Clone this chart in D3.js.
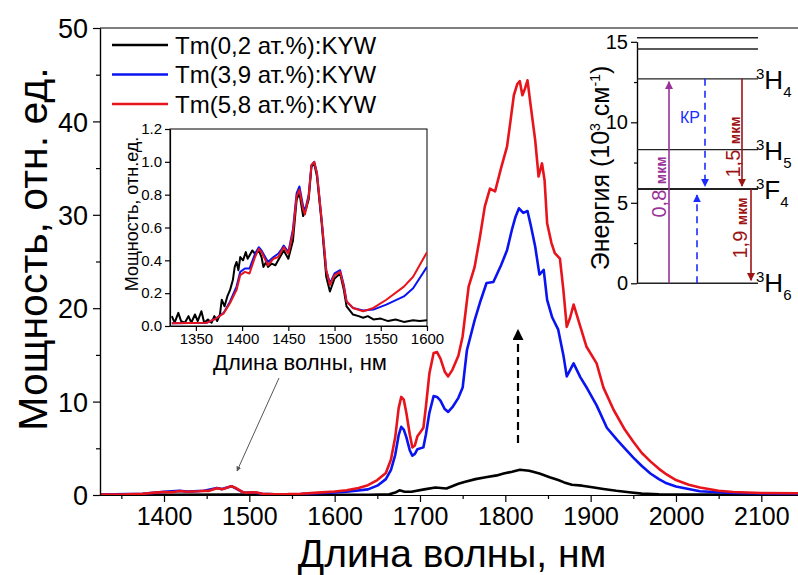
<!DOCTYPE html>
<html>
<head>
<meta charset="utf-8">
<script src="https://cdn.jsdelivr.net/npm/d3@7"></script>
<style>
  body { margin: 0; background: #fff; }
  svg { font-family: "Liberation Sans", Arial, sans-serif; }
  .axis path, .axis line { stroke: #000; stroke-width: 1.2; }
  .axis text { fill: #000; }
</style>
</head>
<body>
<div class="chart"></div>
<script>
// Main spectra [wavelength nm, power a.u.]
var redMain = [[1325,0.05],[1350,0.05],[1375,0.13],[1390,0.25],[1400,0.32],[1410,0.3],[1418,0.42],[1428,0.35],[1440,0.4],[1447,0.45],[1452,0.42],[1462,0.72],[1468,0.62],[1472,0.72],[1479,0.95],[1484,0.75],[1492,0.32],[1496,0.24],[1503,0.3],[1509,0.26],[1515,0.13],[1530,0.08],[1545,0.09],[1560,0.14],[1580,0.25],[1600,0.38],[1614,0.5],[1628,0.75],[1639,1.05],[1650,1.6],[1660,2.35],[1666,3.8],[1671,6.2],[1675,9.3],[1678,10.5],[1681,10.2],[1684,8.8],[1688,6.5],[1691,5.1],[1694,5.3],[1697,6.3],[1701,6.8],[1704,7.2],[1707,9.5],[1711,13.0],[1716,15.2],[1720,15.3],[1724,14.6],[1729,13.2],[1733,12.7],[1738,13.4],[1745,14.9],[1750,17.0],[1757,22.3],[1764,24.4],[1770,27.5],[1776,30.9],[1782,32.8],[1788,32.5],[1795,35.0],[1802,37.3],[1806,40.0],[1810,42.8],[1814,44.0],[1817,44.3],[1820,42.8],[1823,43.5],[1826,44.4],[1830,41.5],[1835,38.0],[1839,34.1],[1843,35.5],[1846,33.7],[1849,29.1],[1854,27.0],[1858,25.9],[1864,25.3],[1868,22.0],[1872,18.0],[1876,19.0],[1880,20.4],[1888,18.0],[1895,15.9],[1907,14.1],[1915,11.5],[1927,9.1],[1940,7.0],[1950,5.7],[1960,4.5],[1970,3.6],[1980,2.8],[1989,2.2],[2000,1.6],[2015,1.1],[2028,0.8],[2050,0.45],[2067,0.32],[2100,0.22],[2143,0.18]];

var blueMain = [[1325,0.04],[1375,0.12],[1400,0.33],[1418,0.44],[1428,0.36],[1447,0.46],[1462,0.76],[1468,0.63],[1479,0.94],[1492,0.32],[1496,0.24],[1503,0.3],[1515,0.12],[1530,0.08],[1560,0.11],[1580,0.18],[1600,0.28],[1614,0.35],[1639,0.6],[1650,1.0],[1660,1.7],[1666,2.7],[1671,4.3],[1675,6.4],[1678,7.3],[1681,7.0],[1684,6.2],[1688,4.8],[1691,4.2],[1694,4.4],[1697,4.9],[1704,5.1],[1707,6.5],[1711,8.8],[1716,10.6],[1720,10.5],[1724,10.1],[1729,9.2],[1733,8.9],[1738,9.4],[1745,10.4],[1750,11.5],[1755,15.5],[1764,18.7],[1771,20.8],[1778,22.7],[1786,22.8],[1795,24.6],[1802,26.2],[1808,28.5],[1812,29.8],[1816,30.7],[1821,30.2],[1826,30.4],[1830,28.8],[1835,26.6],[1840,23.6],[1845,24.1],[1849,20.9],[1855,19.0],[1862,17.7],[1868,15.0],[1872,12.7],[1876,13.4],[1880,14.1],[1888,12.6],[1896,11.4],[1907,9.6],[1919,7.2],[1931,5.9],[1940,5.0],[1950,4.0],[1960,3.1],[1970,2.3],[1980,1.7],[1989,1.25],[2000,0.9],[2028,0.4],[2067,0.22],[2100,0.17],[2143,0.15]];

var blackMain = [[1325,0.02],[1400,0.03],[1480,0.05],[1550,0.02],[1640,0.02],[1664,0.07],[1672,0.3],[1676,0.5],[1682,0.35],[1690,0.35],[1705,0.6],[1718,0.8],[1731,0.7],[1745,1.2],[1752,1.4],[1765,1.7],[1777,1.9],[1790,2.1],[1798,2.3],[1808,2.5],[1817,2.7],[1828,2.6],[1840,2.3],[1852,1.9],[1862,1.6],[1869,1.35],[1878,1.1],[1890,1.0],[1900,0.85],[1915,0.65],[1930,0.45],[1945,0.3],[1960,0.15],[1980,0.08],[2050,0.05],[2143,0.03]];

// Inset, normalised spectra
var redInset = [[1324,0.016],[1362,0.02],[1372,0.047],[1380,0.077],[1387,0.14],[1394,0.22],[1398,0.31],[1403,0.33],[1408,0.32],[1414,0.42],[1418,0.47],[1421,0.45],[1428,0.37],[1434,0.41],[1439,0.42],[1443,0.46],[1445,0.48],[1450,0.44],[1455,0.57],[1459,0.79],[1462,0.83],[1466,0.71],[1468,0.68],[1472,0.79],[1475,0.98],[1478,1.0],[1481,0.93],[1486,0.65],[1491,0.34],[1495,0.25],[1500,0.31],[1506,0.33],[1510,0.24],[1513,0.15],[1520,0.11],[1531,0.09],[1542,0.11],[1556,0.16],[1575,0.24],[1585,0.3],[1600,0.45]];

var blueInset = [[1324,0.016],[1362,0.02],[1372,0.047],[1380,0.08],[1387,0.15],[1394,0.24],[1398,0.33],[1403,0.35],[1408,0.35],[1414,0.44],[1418,0.48],[1421,0.46],[1428,0.39],[1434,0.42],[1439,0.44],[1443,0.47],[1445,0.49],[1450,0.45],[1455,0.59],[1459,0.81],[1462,0.85],[1466,0.73],[1468,0.7],[1472,0.8],[1475,0.98],[1478,1.0],[1481,0.93],[1486,0.65],[1491,0.34],[1495,0.26],[1500,0.32],[1506,0.34],[1510,0.25],[1513,0.15],[1520,0.11],[1531,0.095],[1542,0.1],[1556,0.13],[1575,0.18],[1585,0.23],[1600,0.36]];

var blackInset = [[1324,0.06],[1327,0.02],[1331,0.08],[1334,0.03],[1338,0.02],[1342,0.06],[1345,0.02],[1349,0.07],[1352,0.03],[1356,0.09],[1359,0.02],[1363,0.04],[1367,0.02],[1370,0.06],[1373,0.03],[1376,0.07],[1378,0.16],[1381,0.12],[1384,0.18],[1387,0.22],[1390,0.28],[1392,0.36],[1394,0.39],[1396,0.34],[1398,0.42],[1401,0.4],[1404,0.45],[1406,0.41],[1408,0.43],[1411,0.46],[1414,0.44],[1418,0.46],[1421,0.42],[1423,0.36],[1426,0.39],[1428,0.36],[1432,0.38],[1436,0.37],[1441,0.42],[1445,0.46],[1450,0.41],[1455,0.52],[1459,0.77],[1462,0.81],[1466,0.67],[1469,0.71],[1472,0.77],[1475,0.97],[1478,0.99],[1481,0.91],[1486,0.63],[1491,0.3],[1495,0.21],[1500,0.29],[1506,0.32],[1510,0.22],[1513,0.12],[1520,0.07],[1526,0.06],[1531,0.05],[1536,0.06],[1542,0.04],[1550,0.045],[1558,0.03],[1566,0.04],[1575,0.025],[1585,0.035],[1592,0.03],[1600,0.035]];

// Energy levels, 10^3 cm^-1
var levelValues = [15.25, 14.55, 12.7, 8.3, 5.85, 0];
var levelNames = ["", "", "4", "5", "4", "6"];
var levelLetters = ["", "", "H", "H", "F", "H"];

var legendLabels = ["Tm(0,2 ат.%):KYW", "Tm(3,9 ат.%):KYW", "Tm(5,8 ат.%):KYW"];
var seriesColors = ["#000000", "#0a14f0", "#e8141c"];

var svgWidth = 798;
var svgHeight = 575;

var svg = d3.select(".chart")
  .append("svg")
  .attr("width", svgWidth)
  .attr("height", svgHeight);

// ----- main chart -----
var xScale = d3.scaleLinear().domain([1325, 2143]).range([100, 798]);
var yScale = d3.scaleLinear().domain([0, 50]).range([495, 28]);

svg.append("clipPath").attr("id", "mainClip")
  .append("rect").attr("x", 100).attr("y", 28).attr("width", 698).attr("height", 467);

var line = d3.line()
  .x(function(d) { return xScale(d[0]); })
  .y(function(d) { return yScale(d[1]); });

var curves = svg.append("g").attr("clip-path", "url(#mainClip)");
[blackMain, blueMain, redMain].forEach(function(s, i) {
  curves.append("path")
    .attr("d", line(s))
    .attr("fill", "none")
    .attr("stroke", seriesColors[i])
    .attr("stroke-width", 2.6)
    .attr("stroke-linejoin", "round");
});

// axes
var bottomAxis = d3.axisBottom(xScale).tickValues(d3.range(1400, 2101, 100))
  .tickSize(7).tickSizeOuter(0).tickPadding(5).tickFormat(d3.format("d"));
var bottomMinor = d3.axisBottom(xScale).tickValues(d3.range(1350, 2143, 100))
  .tickSize(4).tickSizeOuter(0).tickFormat("");
var leftAxis = d3.axisLeft(yScale).tickValues(d3.range(0, 51, 10))
  .tickSize(7).tickSizeOuter(0).tickPadding(5);
var leftMinor = d3.axisLeft(yScale).tickValues(d3.range(5, 50, 10))
  .tickSize(4).tickSizeOuter(0).tickFormat("");

svg.append("g").attr("class", "axis").attr("transform", "translate(0,495)")
  .call(bottomMinor);
svg.append("g").attr("class", "axis").attr("transform", "translate(0,495)")
  .call(bottomAxis).selectAll("text").style("font-size", "25px");
svg.append("g").attr("class", "axis").attr("transform", "translate(100,0)")
  .call(leftMinor);
svg.append("g").attr("class", "axis").attr("transform", "translate(100,0)")
  .call(leftAxis).selectAll("text").style("font-size", "27px").attr("dy", "0.36em");

// top frame line
svg.append("line").attr("x1", 100).attr("x2", 798).attr("y1", 28).attr("y2", 28)
  .attr("stroke", "#000").attr("stroke-width", 1.2);

// axis titles
svg.append("text")
  .attr("x", 452).attr("y", 567)
  .attr("text-anchor", "middle")
  .style("font-size", "39px")
  .text("Длина волны, нм");
svg.append("text")
  .attr("transform", "translate(47,249) rotate(-90)")
  .attr("text-anchor", "middle")
  .style("font-size", "41px")
  .text("Мощность, отн. ед.");

// legend
legendLabels.forEach(function(lbl, i) {
  var ly = 45 + i * 29.5;
  svg.append("line").attr("x1", 112).attr("x2", 168).attr("y1", ly).attr("y2", ly)
    .attr("stroke", seriesColors[i]).attr("stroke-width", 2.6);
  svg.append("text").attr("x", 175).attr("y", ly + 8.5)
    .style("font-size", "24px").text(lbl);
});

// arrow heads
svg.append("defs").selectAll("marker")
  .data([["headBlack", "#000"], ["headGray", "#555"], ["headPurple", "#993399"], ["headBlue", "#1a2cff"], ["headRed", "#9c1414"]])
  .enter().append("marker")
  .attr("id", function(d) { return d[0]; })
  .attr("viewBox", "0 0 10 10").attr("refX", 9).attr("refY", 5)
  .attr("markerWidth", 5).attr("markerHeight", 5)
  .attr("orient", "auto")
  .append("path").attr("d", "M0,0 L10,5 L0,10 Z").attr("fill", function(d) { return d[1]; });

// black dashed arrow under the peak
svg.append("line")
  .attr("x1", 518).attr("x2", 518).attr("y1", 443).attr("y2", 330)
  .attr("stroke", "#000").attr("stroke-width", 2.2)
  .attr("stroke-dasharray", "8,5")
  .attr("marker-end", "url(#headBlack)");

// thin arrow from inset to the 1480 nm band
svg.append("line")
  .attr("x1", 279).attr("x2", 237).attr("y1", 378).attr("y2", 471)
  .attr("stroke", "#555").attr("stroke-width", 1)
  .attr("marker-end", "url(#headGray)");

// ----- inset -----
var xInset = d3.scaleLinear().domain([1322, 1600]).range([170, 427]);
var yInset = d3.scaleLinear().domain([0, 1.2]).range([326, 129]);

svg.append("rect").attr("x", 170).attr("y", 129).attr("width", 257).attr("height", 197)
  .attr("fill", "#fff").attr("stroke", "#000").attr("stroke-width", 1);

svg.append("clipPath").attr("id", "insetClip")
  .append("rect").attr("x", 170).attr("y", 129).attr("width", 257).attr("height", 197);

var insetLine = d3.line()
  .x(function(d) { return xInset(d[0]); })
  .y(function(d) { return yInset(d[1]); });

var insetCurves = svg.append("g").attr("clip-path", "url(#insetClip)");
[blackInset, blueInset, redInset].forEach(function(s, i) {
  insetCurves.append("path")
    .attr("d", insetLine(s))
    .attr("fill", "none")
    .attr("stroke", seriesColors[i])
    .attr("stroke-width", 2)
    .attr("stroke-linejoin", "round");
});

var insetBottom = d3.axisBottom(xInset).tickValues(d3.range(1350, 1601, 50))
  .tickSize(5).tickSizeOuter(0).tickPadding(2).tickFormat(d3.format("d"));
var insetLeft = d3.axisLeft(yInset).tickValues(d3.range(0, 1.21, 0.2))
  .tickSize(5).tickSizeOuter(0).tickPadding(3).tickFormat(d3.format(".1f"));
svg.append("g").attr("class", "axis").attr("transform", "translate(0,326)")
  .call(insetBottom).selectAll("text").style("font-size", "15px");
svg.append("g").attr("class", "axis").attr("transform", "translate(170,0)")
  .call(insetLeft).selectAll("text").style("font-size", "15px");

svg.append("text")
  .attr("x", 300).attr("y", 370)
  .attr("text-anchor", "middle")
  .style("font-size", "22px")
  .text("Длина волны, нм");
svg.append("text")
  .attr("transform", "translate(138,214) rotate(-90)")
  .attr("text-anchor", "middle")
  .style("font-size", "18px")
  .text("Мощность, отн.ед.");

// ----- energy level diagram -----
var yEnergy = d3.scaleLinear().domain([0, 15]).range([283.3, 41.8]);
var axisX = 637;

var energyAxis = d3.axisLeft(yEnergy).tickValues([0, 5, 10, 15])
  .tickSize(6).tickSizeOuter(0).tickPadding(3);
var energyMinor = d3.axisLeft(yEnergy).tickValues([2.5, 7.5, 12.5])
  .tickSize(3).tickSizeOuter(0).tickFormat("");
svg.append("g").attr("class", "axis").attr("transform", "translate(" + axisX + ",0)")
  .call(energyMinor);
svg.append("g").attr("class", "axis").attr("transform", "translate(" + axisX + ",0)")
  .call(energyAxis).selectAll("text").style("font-size", "20px");

svg.selectAll(".level")
  .data(levelValues)
  .enter().append("line")
  .attr("class", "level")
  .attr("x1", axisX).attr("x2", 758)
  .attr("y1", function(d) { return yEnergy(d); })
  .attr("y2", function(d) { return yEnergy(d); })
  .attr("stroke", "#222")
  .attr("stroke-width", function(d, i) { return i === 4 ? 2 : 1.4; });

// level names like 3H4
levelValues.forEach(function(v, i) {
  if (!levelLetters[i]) return;
  var t = svg.append("text")
    .attr("x", 756).attr("y", yEnergy(v) + (i === 5 ? 9 : 10))
    .style("font-size", "26px");
  t.append("tspan").attr("dy", "-10").style("font-size", "15px").text("3");
  t.append("tspan").attr("dy", "10").text(levelLetters[i]);
  t.append("tspan").attr("dy", "8").style("font-size", "15px").text(levelNames[i]);
});

var energyTitle = svg.append("text")
  .attr("transform", "translate(609,168) rotate(-90)")
  .attr("text-anchor", "middle")
  .style("font-size", "25px");
energyTitle.append("tspan").text("Энергия (10");
energyTitle.append("tspan").attr("dy", "-9").style("font-size", "14px").text("3");
energyTitle.append("tspan").attr("dy", "9").text(" см");
energyTitle.append("tspan").attr("dy", "-9").style("font-size", "14px").text("-1");
energyTitle.append("tspan").attr("dy", "9").text(")");

// transitions
var arrows = [
  { x: 669, from: 0, to: 12.7, color: "#993399", head: "headPurple", dash: null },
  { x: 705, from: 12.7, to: 5.85, color: "#1a2cff", head: "headBlue", dash: "7,5" },
  { x: 697, from: 0, to: 5.85, color: "#1a2cff", head: "headBlue", dash: "7,5" },
  { x: 742, from: 12.7, to: 5.85, color: "#9c1414", head: "headRed", dash: null },
  { x: 751, from: 5.85, to: 0, color: "#9c1414", head: "headRed", dash: null }
];
arrows.forEach(function(a) {
  var y2 = yEnergy(a.to) + (a.to > a.from ? 3 : -3);
  if (a.x === 697) y2 = yEnergy(a.to) + 6;
  svg.append("line")
    .attr("x1", a.x).attr("x2", a.x)
    .attr("y1", yEnergy(a.from)).attr("y2", y2)
    .attr("stroke", a.color).attr("stroke-width", 1.6)
    .attr("stroke-dasharray", a.dash)
    .attr("marker-end", "url(#" + a.head + ")");
});

function waveLabel(x, y, txt, color) {
  var t = svg.append("text")
    .attr("transform", "translate(" + x + "," + y + ") rotate(-90)")
    .attr("text-anchor", "middle")
    .attr("fill", color)
    .style("font-size", "20px");
  t.append("tspan").text(txt + " ");
  t.append("tspan").style("font-size", "14px").style("font-weight", "bold").text("мкм");
}
waveLabel(666, 187, "0,8", "#993399");
waveLabel(740, 147, "1,5", "#9c1414");
waveLabel(747, 228, "1,9", "#9c1414");

svg.append("text")
  .attr("x", 680).attr("y", 123)
  .attr("fill", "#1a2cff")
  .style("font-size", "16px")
  .text("КР");
</script>
</body>
</html>
